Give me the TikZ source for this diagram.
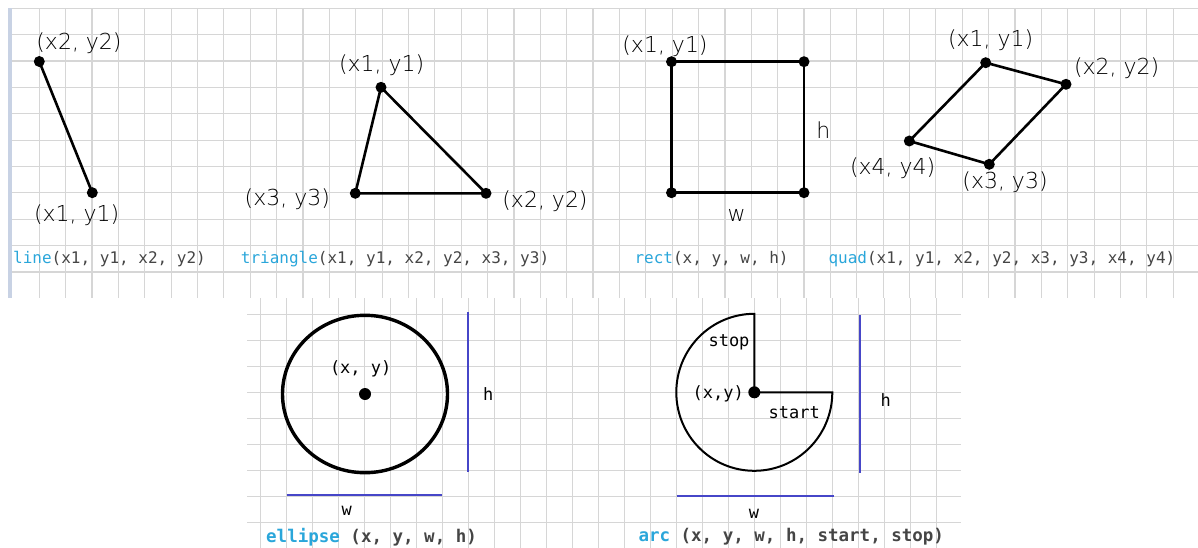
\documentclass[tikz,border=0pt]{standalone}
\usepackage{fontspec}
\setmainfont{DejaVu Sans}
\setmonofont{DejaVu Sans Mono}
\newfontfamily\handfont{DejaVu Sans ExtraLight}
\usetikzlibrary{positioning}

\definecolor{gridgray}{HTML}{D6D6D6}
\definecolor{edgeblue}{HTML}{C8D2E4}
\definecolor{codecyan}{HTML}{2AA6DA}
\definecolor{codegray}{HTML}{454545}
\definecolor{dimblue}{HTML}{4646C8}

\tikzset{
  gridline/.style={gridgray, line width=1.2pt},
  hand/.style={font=\handfont\fontsize{22}{22}\selectfont, inner sep=0pt},
  code/.style={font=\ttfamily\fontsize{16}{16}\selectfont, text=codegray, inner sep=0pt, anchor=west},
  boldcode/.style={font=\ttfamily\bfseries\fontsize{17.5}{17.5}\selectfont, text=codegray, inner sep=0pt, anchor=west},
  mono/.style={font=\ttfamily\fontsize{17}{17}\selectfont, inner sep=0pt},
  edge/.style={line width=2.6pt, line join=round, line cap=round},
  dimline/.style={dimblue, line width=2.2pt},
  vertex/.style={circle, fill=black, inner sep=0pt, minimum size=11pt},
}

\begin{document}
\begin{tikzpicture}[x=1pt, y=-1pt]
\useasboundingbox (0,0) rectangle (1198,548);

% top sheet
\foreach \i in {1,...,44}
  \draw[gridline] ({12.93+26.37*\i},8.3) -- ({12.93+26.37*\i},298);
\foreach \j in {0,...,10}
  \draw[gridline] (9,{8.3+26.37*\j}) -- (1198,{8.3+26.37*\j});
\fill[edgeblue] (7.5,8) rectangle (11.5,298);

% bottom sheet
\foreach \i in {0,...,26}
  \draw[gridline] ({260.7+26*\i},298) -- ({260.7+26*\i},548);
\foreach \j in {0,...,9}
  \draw[gridline] (247,{314.3+26*\j}) -- (961,{314.3+26*\j});

% line
\node[vertex] (l1) at (92.3,192.7) {};
\node[vertex] (l2) at (39.3,61.5) {};
\draw[edge] (l1.center) -- (l2.center);
\node[hand] (l2lbl) at (79,43.3) {(x2, y2)};
\node[hand] (l1lbl) at (76.7,215) {(x1, y1)};
\node[code] (linecode) at (13,259) {\textcolor{codecyan}{line}(x1, y1, x2, y2)};

% triangle
\node[vertex] (t1) at (381,87.3) {};
\node[vertex] (t2) at (486,193.3) {};
\node[vertex] (t3) at (355.3,193.3) {};
\draw[edge] (t1.center) -- (t2.center) -- (t3.center) -- cycle;
\node[hand] (t1lbl) at (381.7,65) {(x1, y1)};
\node[hand] (t2lbl) at (545,201) {(x2, y2)};
\node[hand] (t3lbl) at (287.3,199.3) {(x3, y3)};
\node[code] (tricode) at (240.7,259) {\textcolor{codecyan}{triangle}(x1, y1, x2, y2, x3, y3)};

% rect
\node[vertex] (r1) at (671.5,61.7) {};
\node[vertex] (r2) at (804,61.7) {};
\node[vertex] (r3) at (804,192.7) {};
\node[vertex] (r4) at (671.5,192.7) {};
\draw[edge] (r1.center) -- (r2.center) -- (r3.center) -- (r4.center) -- cycle;
\node[hand] (r1lbl) at (665,46.7) {(x1, y1)};
\node[hand] (rh) at (823.3,130) {h};
\node[hand] (rw) at (736.7,215) {w};
\node[code] (rectcode) at (634.3,259) {\textcolor{codecyan}{rect}(x, y, w, h)};

% quad
\node[vertex] (q1) at (985.7,62.7) {};
\node[vertex] (q2) at (1066,84.3) {};
\node[vertex] (q3) at (989.3,164.3) {};
\node[vertex] (q4) at (909.3,141) {};
\draw[edge] (q1.center) -- (q2.center) -- (q3.center) -- (q4.center) -- cycle;
\node[hand] (q1lbl) at (990.7,40) {(x1, y1)};
\node[hand] (q2lbl) at (1116.7,68.3) {(x2, y2)};
\node[hand] (q4lbl) at (892.7,168.3) {(x4, y4)};
\node[hand] (q3lbl) at (1005,182.7) {(x3, y3)};
\node[code] (quadcode) at (828.3,259) {\textcolor{codecyan}{quad}(x1, y1, x2, y2, x3, y3, x4, y4)};

% ellipse
\node[vertex, minimum size=12pt] (ec) at (365,394) {};
\draw[line width=3.4pt] (ec.center) ellipse [x radius=82.5, y radius=78.7];
\node[mono] (exy) at (360.7,369.3) {(x, y)};
\coordinate (eh1) at (468,312.3);
\coordinate (eh2) at (468,472.3);
\coordinate (ew1) at (286.7,495);
\coordinate (ew2) at (442.3,495);
\draw[dimline] (eh1) -- (eh2);
\draw[dimline] (ew1) -- (ew2);
\node[mono] (eh) at (488.3,394) {h};
\node[mono] (ew) at (346.7,511) {w};
\node[boldcode] (ellcode) at (266,537) {\textcolor{codecyan}{ellipse} (x, y, w, h)};

% arc
\node[vertex, minimum size=12pt] (ac) at (754.3,392.3) {};
\coordinate (astart) at (832.3,392.3);
\draw[line width=2pt, line join=miter] (ac.center) -- (astart)
  arc [start angle=0, end angle=270, x radius=78, y radius=78.5] -- (ac.center);
\node[mono] (astop) at (729,342.3) {stop};
\node[mono] (axy) at (718.3,394) {(x,y)};
\node[mono] (astartlbl) at (794.3,412.3) {start};
\coordinate (ah1) at (860.3,315);
\coordinate (ah2) at (860.3,472.7);
\coordinate (aw1) at (676.7,495.7);
\coordinate (aw2) at (834.3,495.7);
\draw[dimline] (ah1) -- (ah2);
\draw[dimline] (aw1) -- (aw2);
\node[mono] (ah) at (885.7,400) {h};
\node[mono] (aw) at (754,514) {w};
\node[boldcode] (arccode) at (638.3,537) {\textcolor{codecyan}{arc} (x, y, w, h, start, stop)};

\end{tikzpicture}
\end{document}
